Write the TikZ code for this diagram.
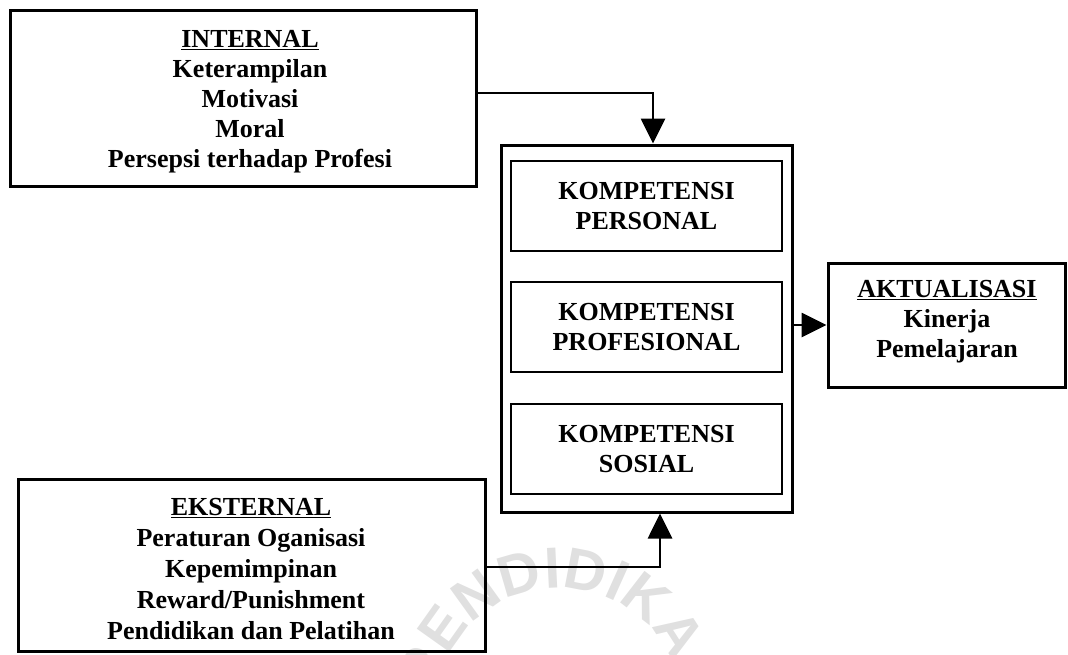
\documentclass[tikz,border=0pt]{standalone}
\usepackage{fontspec}
\setmainfont{Liberation Serif}
\newfontfamily\wmfamily{Liberation Sans}
\usetikzlibrary{arrows.meta,decorations.text}
\definecolor{wmgray}{gray}{0.88}
\newcommand{\wmsty}{\wmfamily\bfseries\fontsize{58}{58}\selectfont\color{wmgray}}
\tikzset{
  outerbox/.style={draw, line width=3pt, inner sep=0pt, rectangle},
  innerbox/.style={draw, line width=2pt, inner sep=0pt, rectangle},
  boxtext/.style={font=\bfseries\fontsize{26}{30}\selectfont, align=center, inner sep=0pt},
  conn/.style={line width=2.8pt, -{Triangle[length=25pt,width=24pt]}},
}
\begin{document}
\begin{tikzpicture}[x=1pt,y=1pt]
\useasboundingbox (0,0) rectangle (1068,-654);
% faint watermark
\path[decorate, decoration={text along path, text align=center,
  text={|\wmsty|PENDIDIKAN}}]
  (559,-711) ++(200:123) arc[start angle=200, end angle=-25, radius=123];
% boxes
\node[outerbox, minimum width=466pt, minimum height=176pt] (int) at (243,-98) {};
\node[outerbox, minimum width=467pt, minimum height=172pt] (eks) at (251.5,-565) {};
\node[outerbox, minimum width=291pt, minimum height=367pt] (big) at (646.5,-328.5) {};
\node[innerbox, minimum width=271pt, minimum height=90pt] (k1) at (646.5,-206) {};
\node[innerbox, minimum width=271pt, minimum height=90pt] (k2) at (646.5,-327) {};
\node[innerbox, minimum width=271pt, minimum height=90pt] (k3) at (646.5,-449) {};
\node[outerbox, minimum width=237pt, minimum height=124pt] (akt) at (946.5,-325) {};
% texts
\node[boxtext] (intT) at (250,-102) {\underline{INTERNAL}\\Keterampilan\\Motivasi\\Moral\\Persepsi terhadap Profesi};
\node[boxtext, font=\bfseries\fontsize{26}{31}\selectfont] (eksT) at (251,-569) {\underline{EKSTERNAL}\\Peraturan Oganisasi\\Kepemimpinan\\Reward/Punishment\\Pendidikan dan Pelatihan};
\node[boxtext] (k1T) at (k1) {KOMPETENSI\\PERSONAL};
\node[boxtext] (k2T) at (k2) {KOMPETENSI\\PROFESIONAL};
\node[boxtext] (k3T) at (k3) {KOMPETENSI\\SOSIAL};
\node[boxtext] (aktT) at (947,-322) {\underline{AKTUALISASI}\\Kinerja\\Pemelajaran};
% connectors
\coordinate (t1) at (653,-93);
\coordinate (t2) at (660,-567);
\draw[conn] (int.east |- t1) -| (t1 |- big.north);
\draw[conn] (eks.east |- t2) -| (t2 |- big.south);
\draw[conn] (big.east |- akt.west) -- (akt.west);
\end{tikzpicture}
\end{document}
